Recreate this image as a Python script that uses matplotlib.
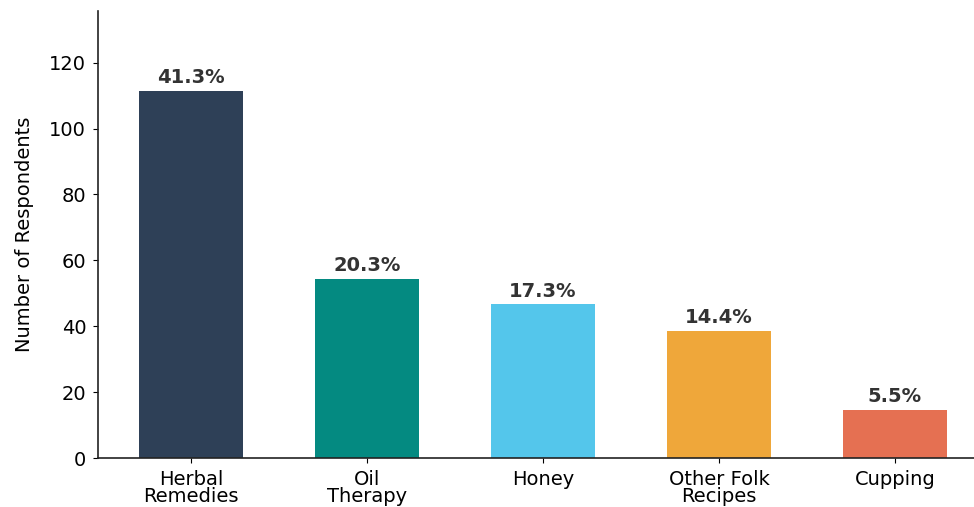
import matplotlib
matplotlib.use("Agg")
import matplotlib.pyplot as plt

plt.rcParams["font.family"] = ["DejaVu Sans"]

categories = ["Herbal\nRemedies", "Oil\nTherapy", "Honey", "Other Folk\nRecipes", "Cupping"]
respondents = [111.4, 54.4, 46.6, 38.6, 14.5]
pct_labels = ["41.3%", "20.3%", "17.3%", "14.4%", "5.5%"]
colors = ["#2E4057", "#048A81", "#54C6EB", "#EFA73A", "#E57052"]

fig = plt.figure(figsize=(9.74, 5.07), dpi=100)
ax = fig.add_axes([98/974, (507-458)/507, 1 - 98/974, (458-11)/507])

x = list(range(len(categories)))
bars = ax.bar(x, respondents, width=0.59, color=colors)
for b, lab in zip(bars, pct_labels):
    ax.text(b.get_x() + b.get_width()/2, b.get_height() + 1.2, lab,
            ha="center", va="bottom", fontsize=14, fontweight="bold", color="#333333")

ax.set_xlim(-0.53, 4.45)
ax.set_ylim(0, 135.7)
ax.set_yticks([0, 20, 40, 60, 80, 100, 120])
ax.set_xticks(x)
ax.set_xticklabels(categories, fontsize=14, linespacing=0.9)
ax.tick_params(axis="y", labelsize=14, pad=5)
ax.tick_params(axis="x", pad=5)
ax.set_ylabel("Number of Respondents", fontsize=14, labelpad=11)
ax.spines["top"].set_visible(False)
ax.spines["right"].set_visible(False)
for s in ("left", "bottom"):
    ax.spines[s].set_color("#222222")
    ax.spines[s].set_linewidth(1.2)

fig.savefig("out.png", dpi=100)
